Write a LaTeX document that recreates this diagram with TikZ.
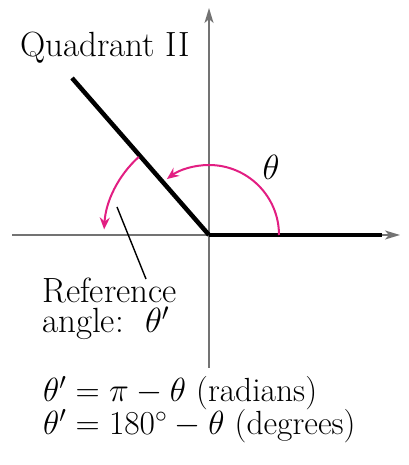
\RequirePackage{fix-cm}
\documentclass[tikz,border=0pt]{standalone}
\usetikzlibrary{arrows.meta}
\definecolor{axisgray}{RGB}{115,115,115}
\definecolor{arcpink}{RGB}{226,30,130}
\begin{document}
\begin{tikzpicture}[x=1pt,y=1pt,
  axis/.style={draw=axisgray,line width=2pt,-{Stealth[length=15pt,width=9pt,inset=4pt]}},
  ray/.style={draw=black,line width=4.5pt},
  arcline/.style={draw=arcpink,line width=2pt,-{Stealth[length=12pt,width=10pt,inset=4pt]}},
  lbl/.style={font=\fontsize{35}{35}\selectfont,inner sep=0pt,anchor=base west},
  formula/.style={font=\fontsize{33.5}{33.5}\selectfont,inner sep=0pt,anchor=base west}]
\useasboundingbox (0,0) rectangle (408,465);
\coordinate (O) at (209,230);
\coordinate (ytop) at (209,457);
\coordinate (ybot) at (209,97);
\coordinate (xl) at (12,230);
\coordinate (xr) at (400,230);
\coordinate (xe) at (382,230);
\coordinate (T) at (72,387);
\coordinate (l1) at (117,258);
\coordinate (l2) at (146,186);
\draw[axis] (ybot) -- (ytop);
\draw[axis] (xl) -- (xr);
\draw[ray] (O) -- (xe);
\draw[ray,line cap=butt] (T) -- (O);
\draw[arcline] (O) ++(0:70) arc[start angle=0,end angle=127,radius=70];
\draw[arcline] (O) ++(132:105) arc[start angle=132,end angle=177,radius=105];
\draw[line width=1.4pt] (l1) -- (l2);
\node[font=\fontsize{35}{35}\selectfont,inner sep=0pt] (th) at (271,298) {$\theta$};
\node[lbl] (quad) at (20,408) {Quadrant II};
\node[lbl] (ref) at (42,162) {Reference};
\node[lbl] (ang) at (42,132) {angle:\ \ $\theta'$};
\node[formula] (f1) at (43,63) {$\theta' = \pi - \theta$ (radians)};
\node[formula] (f2) at (43,30) {$\theta' = 180^\circ - \theta$ (degrees)};
\end{tikzpicture}
\end{document}
